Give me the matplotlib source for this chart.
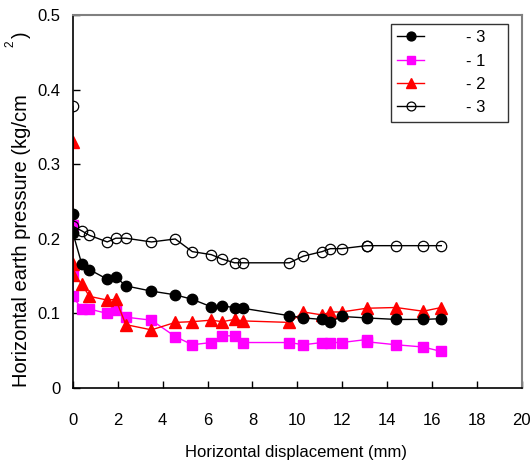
import matplotlib
matplotlib.use("Agg")
import matplotlib.pyplot as plt

plt.rcParams['font.family'] = ['Liberation Sans', 'DejaVu Sans']

# Horizontal displacement (mm) and horizontal earth pressure (kg/cm^2)
x_black = [0, 0, 0.39, 0.73, 1.53, 1.91, 2.36, 3.5, 4.56, 5.32, 6.16, 6.65, 7.2, 7.57,
           9.64, 10.27, 11.1, 11.47, 11.97, 13.08, 14.39, 15.6, 16.41]
y_black = [0.234, 0.208, 0.167, 0.159, 0.146, 0.149, 0.137, 0.130, 0.125, 0.119, 0.109, 0.110,
           0.108, 0.107, 0.097, 0.094, 0.092, 0.089, 0.096, 0.094, 0.092, 0.092, 0.093]

x_mag = [0, 0, 0, 0.39, 0.73, 1.53, 1.91, 2.36, 3.5, 4.56, 5.32, 6.16, 6.65, 7.2, 7.57,
         9.64, 10.27, 11.1, 11.47, 11.97, 13.08, 13.1, 14.39, 15.6, 16.41]
y_mag = [0.219, 0.152, 0.123, 0.106, 0.106, 0.100, 0.105, 0.095, 0.091, 0.069, 0.058, 0.061,
         0.070, 0.070, 0.061, 0.061, 0.058, 0.061, 0.061, 0.061, 0.065, 0.062, 0.058, 0.055, 0.049]

x_red = [0, 0, 0, 0.39, 0.73, 1.53, 1.91, 2.36, 3.5, 4.56, 5.32, 6.16, 6.65, 7.2, 7.57,
         9.64, 10.27, 11.1, 11.47, 11.97, 13.08, 14.39, 15.6, 16.41]
y_red = [0.330, 0.167, 0.152, 0.140, 0.123, 0.118, 0.119, 0.085, 0.078, 0.088, 0.089, 0.091,
         0.089, 0.092, 0.090, 0.088, 0.102, 0.098, 0.102, 0.102, 0.107, 0.108, 0.103, 0.108]

x_open = [0, 0, 0.39, 0.73, 1.53, 1.91, 2.36, 3.5, 4.56, 5.32, 6.16, 6.65, 7.2, 7.57,
          9.64, 10.27, 11.1, 11.47, 11.97, 13.08, 13.12, 14.39, 15.6, 16.41]
y_open = [0.378, 0.217, 0.211, 0.205, 0.196, 0.201, 0.201, 0.196, 0.200, 0.183, 0.179, 0.173,
          0.168, 0.168, 0.168, 0.177, 0.183, 0.187, 0.187, 0.191, 0.191, 0.191, 0.191, 0.191]

labels = ['- 3', '- 1', '- 2', '- 3']
x_ticks = [0, 2, 4, 6, 8, 10, 12, 14, 16, 18, 20]
y_ticks = [0, 0.1, 0.2, 0.3, 0.4, 0.5]
y_tick_labels = ['0', '0.1', '0.2', '0.3', '0.4', '0.5']

fig = plt.figure(figsize=(5.32, 4.68), dpi=100)
ax = fig.add_axes([0.137, 0.171, 0.844, 0.796])

ax.plot(x_black, y_black, color='black', lw=1.0, marker='o', ms=7.5,
        mfc='black', mec='black', label=labels[0], zorder=3)
ax.plot(x_mag, y_mag, color='#ff00ff', lw=1.0, marker='s', ms=7.5,
        mfc='#ff00ff', mec='#ff00ff', label=labels[1], zorder=2)
ax.plot(x_red, y_red, color='red', lw=1.0, marker='^', ms=8.5,
        mfc='red', mec='red', label=labels[2], zorder=2)
ax.plot(x_open, y_open, color='black', lw=1.0, marker='o', ms=7.5,
        mfc='none', mec='black', mew=0.9, label=labels[3], zorder=3)

ax.set_xlim(0, 20)
ax.set_ylim(0, 0.5)
ax.set_xticks(x_ticks)
ax.set_xticklabels([str(t) for t in x_ticks])
ax.set_yticks(y_ticks)
ax.set_yticklabels(y_tick_labels)
ax.tick_params(direction='in', length=5, width=1, labelsize=12, pad=9,
               top=False, right=False)
ax.tick_params(axis='x', pad=18)

for side in ['left', 'bottom']:
    ax.spines[side].set_color('black')
    ax.spines[side].set_linewidth(1.2)
for side in ['top', 'right']:
    ax.spines[side].set_color('#808080')
    ax.spines[side].set_linewidth(1.5)

leg = ax.legend(loc='upper left', bbox_to_anchor=(0.708, 0.0, 0.261, 0.978),
                mode='expand', frameon=True, fancybox=False, edgecolor='black',
                fontsize=12, handlelength=1.6, handletextpad=2.5,
                labelspacing=0.5, borderpad=0.4, borderaxespad=0.0,
                markerscale=0.85)
leg.get_frame().set_linewidth(1.0)

fig.text(0.556, (468 - 453) / 468, 'Horizontal displacement (mm)', ha='center',
         va='center', fontsize=12)
fig.text(0.040, (468 - 387) / 468, 'Horizontal earth pressure (kg/cm', rotation=90,
         ha='center', va='bottom', fontsize=14.5)
fig.text(0.020, (468 - 47) / 468, '2', rotation=90, ha='center', va='bottom',
         fontsize=8.5)
fig.text(0.040, (468 - 38) / 468, ')', rotation=90, ha='center', va='bottom',
         fontsize=14.5)

fig.savefig('out.png', dpi=100)
